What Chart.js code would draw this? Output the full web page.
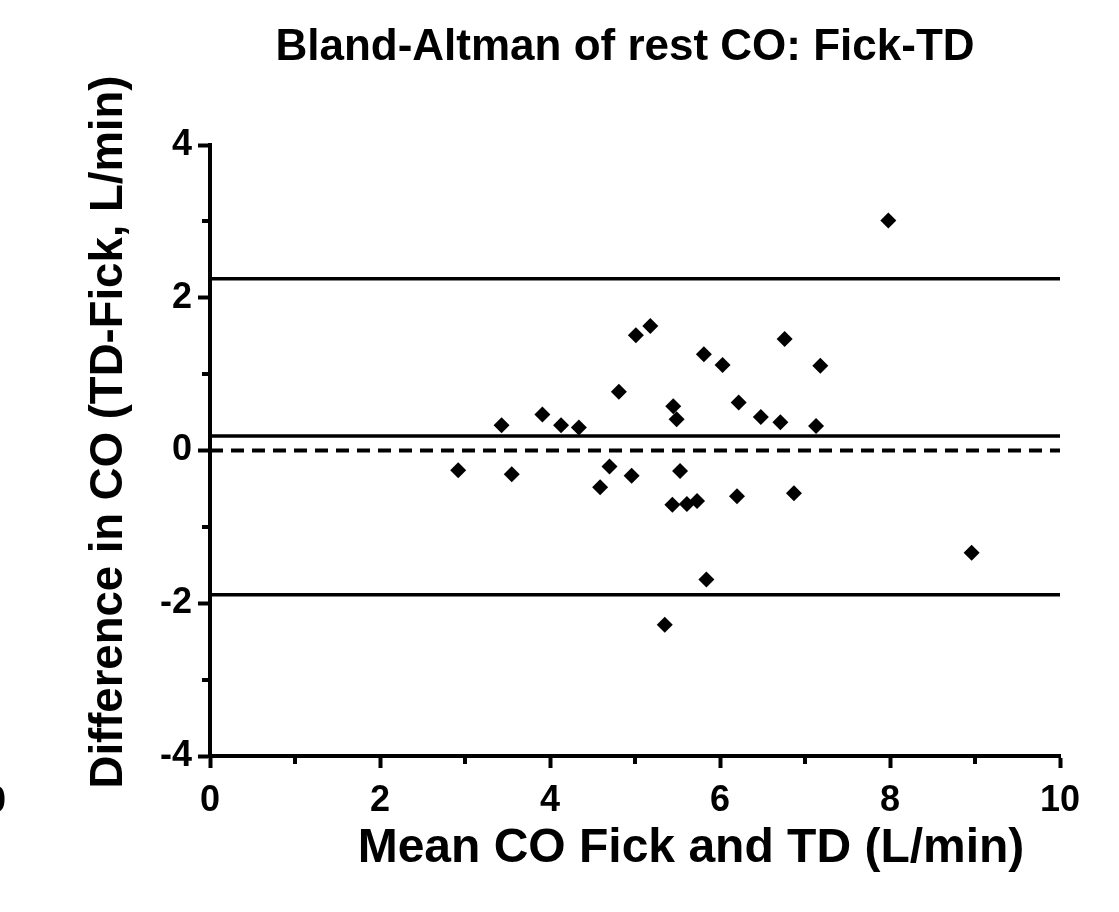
<!DOCTYPE html>
<html>
<head>
<meta charset="utf-8">
<title>Bland-Altman of rest CO</title>
<script src="https://cdn.jsdelivr.net/npm/chart.js@4.4.1/dist/chart.umd.min.js"></script>
<style>
  body { margin: 0; background: #fff; }
  #wrap { width: 1119px; height: 912px; }
</style>
</head>
<body>
<div id="wrap"><canvas id="baChart" width="1119" height="912"></canvas></div>
<script>
// mean of the two methods (x) and the difference TD-Fick (y)
const meanCO = [2.92, 3.43, 3.55, 3.91, 4.13, 4.34, 4.59, 4.70, 4.81, 4.96, 5.01, 5.18,
                5.35, 5.44, 5.45, 5.49, 5.53, 5.61, 5.73, 5.81, 5.84, 6.03, 6.20, 6.22,
                6.48, 6.71, 6.76, 6.87, 7.13, 7.18, 7.98, 8.96];
const diffCO = [-0.26, 0.33, -0.31, 0.47, 0.33, 0.30, -0.48, -0.21, 0.77, -0.33, 1.51, 1.63,
                -2.28, -0.71, 0.58, 0.41, -0.27, -0.70, -0.66, 1.26, -1.69, 1.12, -0.60, 0.63,
                0.44, 0.37, 1.46, -0.56, 0.32, 1.11, 3.01, -1.34];

// bias and 95% limits of agreement
const bias = 0.19;
const upperLoA = 2.25;
const lowerLoA = -1.89;

const xRange = [0, 10];
const yRange = [-4, 4];
const xMinorTicks = [1, 3, 5, 7, 9];
const yMinorTicks = [3, 1, -1, -3];

const chartTitle = 'Bland-Altman of rest CO: Fick-TD';
const xTitle = 'Mean CO Fick and TD (L/min)';
const yTitle = 'Difference in CO (TD-Fick, L/min)';

const fontFam = "'Liberation Sans', Arial, sans-serif";

function hLine(y) {
    return [{ x: xRange[0], y: y }, { x: xRange[1], y: y }];
}

// short ticks at the odd values, like the original axes
const minorTicks = {
    id: 'minorTicks',
    afterDraw(chart) {
        const ctx = chart.ctx;
        const xs = chart.scales.x, ys = chart.scales.y;
        ctx.save();
        ctx.strokeStyle = '#000';
        ctx.lineWidth = 4;
        xMinorTicks.forEach(v => {
            const px = Math.round(xs.getPixelForValue(v));
            ctx.beginPath();
            ctx.moveTo(px, xs.top);
            ctx.lineTo(px, xs.top + 8);
            ctx.stroke();
        });
        yMinorTicks.forEach(v => {
            const py = Math.round(ys.getPixelForValue(v));
            ctx.beginPath();
            ctx.moveTo(ys.right - 8, py);
            ctx.lineTo(ys.right, py);
            ctx.stroke();
        });
        ctx.restore();
    }
};

// titles are placed the way the original export placed them (not centred on the plot)
const titles = {
    id: 'titles',
    afterDraw(chart) {
        const ctx = chart.ctx;
        ctx.save();
        ctx.fillStyle = '#000';
        ctx.textAlign = 'center';
        ctx.textBaseline = 'alphabetic';

        ctx.font = 'bold 44px ' + fontFam;
        ctx.fillText(chartTitle, 625, 60);

        ctx.font = 'bold 48px ' + fontFam;
        ctx.fillText(xTitle, 691, 862);

        ctx.save();
        ctx.translate(122, 432);
        ctx.rotate(-Math.PI / 2);
        ctx.font = 'bold 45.5px ' + fontFam;
        ctx.fillText(yTitle, 0, 0);
        ctx.restore();

        // cut-off label from the neighbouring panel at the left edge
        ctx.font = 'bold 36px ' + fontFam;
        ctx.fillText('0', -4, 812);
        ctx.restore();
    }
};

const ctx = document.getElementById('baChart').getContext('2d');
new Chart(ctx, {
    type: 'scatter',
    data: {
        datasets: [
            {
                label: 'Difference',
                data: meanCO.map((m, i) => ({ x: m, y: diffCO[i] })),
                pointStyle: 'rectRot',
                pointRadius: 8,
                pointHoverRadius: 8,
                backgroundColor: '#000',
                borderColor: '#000',
                borderWidth: 0,
                order: 0
            },
            {
                label: 'Upper LoA',
                data: hLine(upperLoA),
                showLine: true,
                pointRadius: 0,
                borderColor: '#000',
                borderWidth: 3.5,
                order: 1
            },
            {
                label: 'Bias',
                data: hLine(bias),
                showLine: true,
                pointRadius: 0,
                borderColor: '#000',
                borderWidth: 3.5,
                order: 1
            },
            {
                label: 'Lower LoA',
                data: hLine(lowerLoA),
                showLine: true,
                pointRadius: 0,
                borderColor: '#000',
                borderWidth: 3.5,
                order: 1
            },
            {
                label: 'Zero',
                data: hLine(0),
                showLine: true,
                pointRadius: 0,
                borderColor: '#000',
                borderWidth: 4,
                borderDash: [13, 8],
                order: 1
            }
        ]
    },
    options: {
        responsive: false,
        animation: false,
        layout: { padding: { top: 145, right: 59, bottom: 0, left: 0 } },
        plugins: {
            legend: { display: false },
            tooltip: { enabled: false },
            title: { display: false }
        },
        scales: {
            x: {
                type: 'linear',
                min: xRange[0],
                max: xRange[1],
                afterFit: s => { s.height = 156; },
                border: { display: true, color: '#000', width: 4 },
                grid: {
                    drawOnChartArea: false,
                    drawTicks: true,
                    tickLength: 12,
                    tickWidth: 4,
                    tickColor: c => (c.tick && c.tick.value % 2 === 0) ? '#000' : 'rgba(0,0,0,0)'
                },
                ticks: {
                    stepSize: 1,
                    autoSkip: false,
                    maxRotation: 0,
                    padding: 11,
                    color: '#000',
                    font: { family: fontFam, size: 36, weight: 'bold' },
                    callback: v => (v % 2 === 0 ? v : '')
                },
                title: { display: false }
            },
            y: {
                type: 'linear',
                min: yRange[0],
                max: yRange[1],
                afterFit: s => { s.width = 210; },
                border: { display: true, color: '#000', width: 4 },
                grid: {
                    drawOnChartArea: false,
                    drawTicks: true,
                    tickLength: 12,
                    tickWidth: 4,
                    tickColor: c => (c.tick && c.tick.value % 2 === 0) ? '#000' : 'rgba(0,0,0,0)'
                },
                ticks: {
                    stepSize: 1,
                    autoSkip: false,
                    padding: 6,
                    color: '#000',
                    font: { family: fontFam, size: 36, weight: 'bold' },
                    callback: v => (v % 2 === 0 ? v : '')
                },
                title: { display: false }
            }
        }
    },
    plugins: [minorTicks, titles]
});
</script>
</body>
</html>
